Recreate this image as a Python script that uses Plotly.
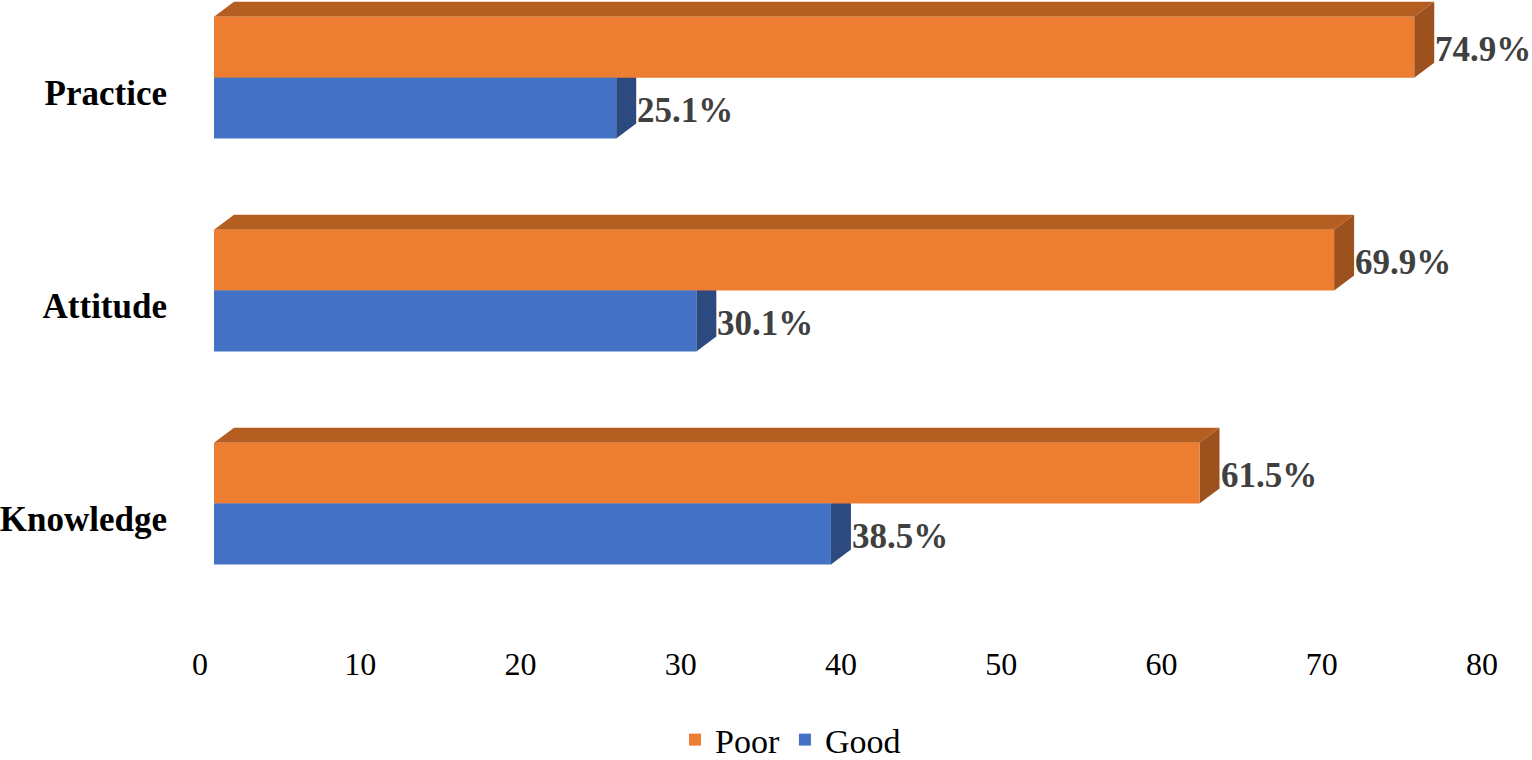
import plotly.graph_objects as go

categories = ["Knowledge", "Attitude", "Practice"]
poor = [61.5, 69.9, 74.9]
good = [38.5, 30.1, 25.1]
x_ticks = [0, 10, 20, 30, 40, 50, 60, 70, 80]
series_names = ["Poor", "Good"]

# styles
FONT = "Liberation Serif"
C_POOR = "#ED7D31"
C_POOR_TOP = "#B55E22"
C_POOR_SIDE = "#9D521E"
C_GOOD = "#4472C4"
C_GOOD_TOP = "#34599A"
C_GOOD_SIDE = "#2C4980"

W, H = 1532, 760
ML, MR, MT, MB = 214, 4, 1, 118
XR = [0, 82]
YR = [-0.65, 2.36]
BAR_W = 0.286
px_x = (W - ML - MR) / (XR[1] - XR[0])
px_y = (H - MT - MB) / (YR[1] - YR[0])
DX = 20 / px_x      # 3D depth, horizontal
DY = 15 / px_y      # 3D depth, vertical

idx = list(range(len(categories)))
y_poor = [i + BAR_W / 2 for i in idx]
y_good = [i - BAR_W / 2 for i in idx]

fig = go.Figure()
fig.add_trace(go.Bar(name=series_names[0], x=poor, y=y_poor, orientation="h",
                     width=BAR_W, marker=dict(color=C_POOR, line=dict(width=0))))
fig.add_trace(go.Bar(name=series_names[1], x=good, y=y_good, orientation="h",
                     width=BAR_W, marker=dict(color=C_GOOD, line=dict(width=0))))

shapes = []
annotations = []
for vals, ys, ctop, cside in [(good, y_good, C_GOOD_TOP, C_GOOD_SIDE),
                              (poor, y_poor, C_POOR_TOP, C_POOR_SIDE)]:
    for v, yc in zip(vals, ys):
        b = yc - BAR_W / 2
        t = yc + BAR_W / 2
        shapes.append(dict(type="path", xref="x", yref="y", layer="below",
                           path=f"M 0,{t} L {DX},{t+DY} L {v+DX},{t+DY} L {v},{t} Z",
                           fillcolor=ctop, line=dict(width=0)))
        shapes.append(dict(type="path", xref="x", yref="y", layer="below",
                           path=f"M {v},{b} L {v},{t} L {v+DX},{t+DY} L {v+DX},{b+DY} Z",
                           fillcolor=cside, line=dict(width=0)))
        annotations.append(dict(x=v, y=yc, xref="x", yref="y", text=f"{v}%",
                                showarrow=False, xanchor="left", yanchor="middle",
                                xshift=19, yshift=-2,
                                font=dict(family=FONT, size=35, color="#404040", weight="bold")))

fig.update_layout(
    width=W, height=H,
    margin=dict(l=ML, r=MR, t=MT, b=MB),
    paper_bgcolor="white", plot_bgcolor="white",
    barmode="overlay",
    shapes=shapes,
    annotations=annotations,
    showlegend=True,
    legend=dict(orientation="h", xref="container", yref="container",
                x=0.516, y=0.0263, xanchor="center", yanchor="middle",
                font=dict(family=FONT, size=34, color="black")),
    xaxis=dict(range=XR, tickvals=x_ticks, showgrid=False, zeroline=False,
               showline=False, ticks="", ticklabelshift=-14, ticklabelstandoff=0,
               tickfont=dict(family=FONT, size=32, color="black")),
    yaxis=dict(range=YR, tickvals=idx, ticktext=categories, showgrid=False,
               zeroline=False, showline=False, ticks="", ticklabelshift=15,
               ticklabelstandoff=46,
               tickfont=dict(family=FONT, size=35, color="black", weight="bold")),
)

fig.write_html("out.html", config={"displayModeBar": False},
               post_script="document.body.style.margin='0';document.body.style.overflow='hidden';")
